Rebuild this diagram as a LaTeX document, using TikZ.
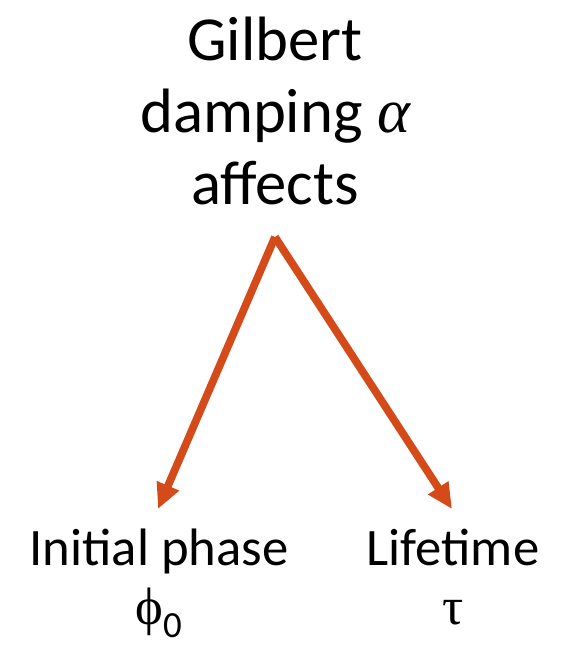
\documentclass[tikz,border=0pt]{standalone}
\usepackage{fontspec}
\setmainfont{Carlito}
\newfontfamily\symfont{Liberation Serif}
\usetikzlibrary{arrows.meta}
\definecolor{arroworange}{RGB}{212,74,24}
\tikzset{
  titletext/.style={align=center,inner sep=0pt,font=\fontsize{47}{54}\selectfont},
  resulttext/.style={align=center,inner sep=0pt,font=\fontsize{39.5}{44}\selectfont},
  affect/.style={draw=arroworange,line width=5.8pt,
    -{Triangle[length=19pt,width=17pt]}}
}
\begin{document}
\begin{tikzpicture}[x=0.75pt,y=-0.75pt]
\useasboundingbox (0,0) rectangle (572,645);
\node[titletext,anchor=north] (title) at (275,17) {Gilbert\\damping {\symfont\itshape α}\\affects};
\coordinate (fork) at (275,237);
\coordinate (tipphase) at (158,509);
\coordinate (tiplife) at (452,509);
\draw[affect] (fork) -- (tipphase);
\draw[affect] (fork) -- (tiplife);
\node[resulttext,anchor=north] (phase) at (159,529) {Initial phase\\{\symfont ϕ}\textsubscript{0}};
\node[resulttext,anchor=north] (life) at (453,529) {Lifetime\\{\symfont τ}};
\end{tikzpicture}
\end{document}
